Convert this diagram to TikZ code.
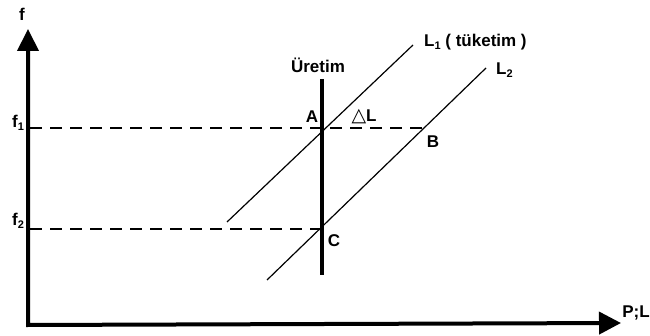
\documentclass[tikz,border=0pt]{standalone}
\usepackage{fontspec}
\setmainfont{Liberation Sans}
\newfontfamily\symfont{DejaVu Sans}
\usetikzlibrary{arrows.meta}
\newcommand{\sbx}[1]{\raisebox{-3pt}{\fontsize{11}{11}\selectfont #1}}
\begin{document}
\begin{tikzpicture}[x=1pt,y=-1pt,
  lbl/.style={font=\fontsize{17}{20}\selectfont\bfseries, inner sep=0pt},
  axis/.style={line width=4pt, {Triangle[length=22pt,width=21pt]}-{Triangle[length=22pt,width=22pt]}},
  guide/.style={line width=2.5pt, dash pattern=on 12pt off 8pt},
  curveline/.style={line width=1.2pt},
  prod/.style={line width=3.5pt}]
\useasboundingbox (0,0) rectangle (650,336);
% axes
\coordinate (O) at (28,325);
\coordinate (Ytip) at (28,29);
\coordinate (Xtip) at (621,323);
\draw[axis] (Ytip) -- (O) -- (Xtip);
\node[lbl] (flab) at (22,14) {f};
\node[lbl] (plab) at (636,313) {P;L};
% key points
\coordinate (A) at (323,128);
\coordinate (B) at (422,128);
\coordinate (C) at (322,229);
\coordinate (F1) at (30,128);
\coordinate (F2) at (30,229);
% guide lines
\draw[guide] (F1) -- (B);
\draw[guide] (F2) -- (C);
% production line
\coordinate (Ptop) at (322,79);
\coordinate (Pbot) at (322,275);
\draw[prod] (Ptop) -- (Pbot);
% L1 and L2
\coordinate (L1a) at (227,222);
\coordinate (L1b) at (413,45);
\coordinate (L2a) at (267,280);
\coordinate (L2b) at (486,68);
\draw[curveline] (L1a) -- (L1b);
\draw[curveline] (L2a) -- (L2b);
% labels
\node[lbl] (f1lab) at (18,123) {f\sbx{1}};
\node[lbl] (f2lab) at (18,221) {f\sbx{2}};
\node[lbl] (uret) at (318,65) {Üretim};
\node[lbl, anchor=west] (l1lab) at (424,42) {L\sbx{1} ( tüketim )};
\node[lbl, anchor=west] (l2lab) at (496,70) {L\sbx{2}};
\node[lbl] (alab) at (312,117) {A};
\node[lbl] (dlab) at (364,117) {{\symfont\fontsize{19}{20}\selectfont △}L};
\node[lbl] (blab) at (433,142) {B};
\node[lbl] (clab) at (334,241) {C};
\end{tikzpicture}
\end{document}
